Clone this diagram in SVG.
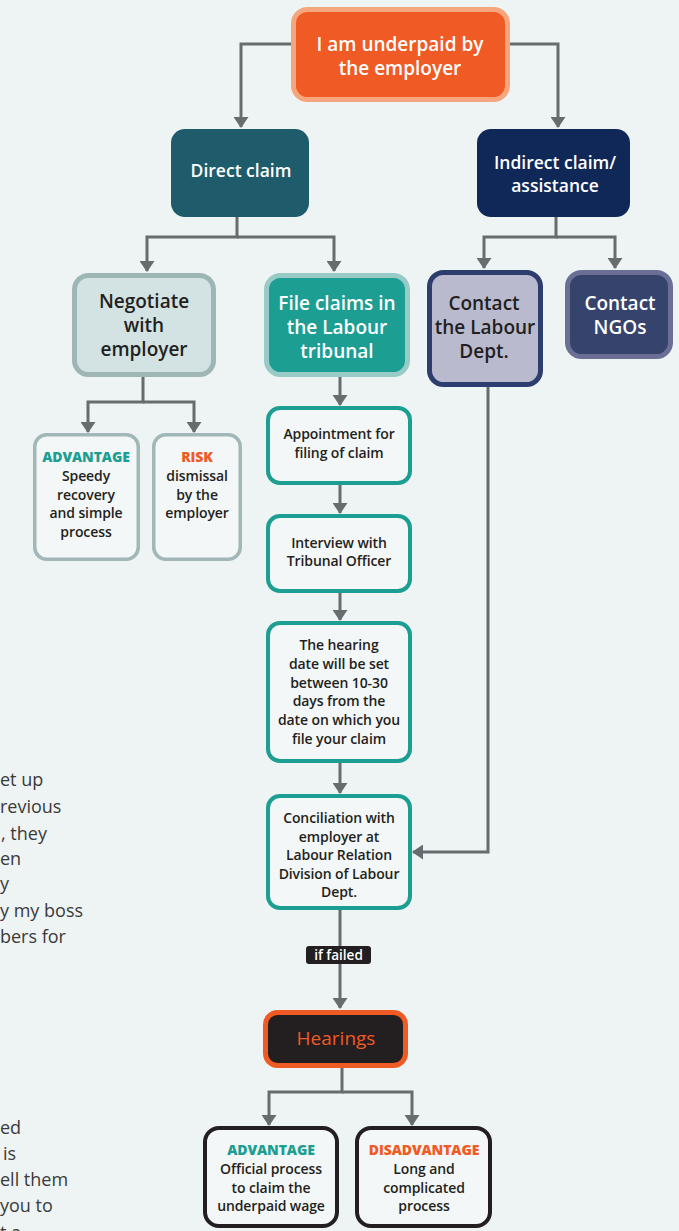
<svg xmlns="http://www.w3.org/2000/svg" width="679" height="1231" viewBox="0 0 679 1231">
<defs>
<marker id="ah" markerUnits="userSpaceOnUse" markerWidth="11" markerHeight="15" viewBox="0 0 11 15" refX="10" refY="7.5" orient="auto">
<path d="M0,0 L11,7.5 L0,15 Z" fill="#676c6f"/>
</marker>
<style>
.bg{fill:#eef4f4}
.c{fill:none;stroke:#676c6f;stroke-width:3;marker-end:url(#ah)}
.t{font-family:"Open Sans","Noto Sans",sans-serif;font-weight:600;text-anchor:middle}
.big{font-size:19px}
.mid{font-size:17.5px}
.sm{font-size:14px;letter-spacing:-0.1px}
.w{fill:#ffffff}
.d{fill:#231f20}
.tealT{fill:#1c9e92;font-weight:800}
.orT{fill:#f05a24;font-weight:800}
.frag{font-family:"Open Sans","Noto Sans",sans-serif;font-size:18px;fill:#3a3a3a}
</style>
</defs>
<rect class="bg" x="0" y="0" width="679" height="1231"/>

<g id="fragments">
<text class="frag" x="0" y="786">et up</text>
<text class="frag" x="0" y="813">revious</text>
<text class="frag" x="1" y="840">, they</text>
<text class="frag" x="0" y="865">en</text>
<text class="frag" x="0" y="890">y</text>
<text class="frag" x="0" y="917">y my boss</text>
<text class="frag" x="0" y="943">bers for</text>
<text class="frag" x="0" y="1134">ed</text>
<text class="frag" x="3" y="1160">is</text>
<text class="frag" x="0" y="1186">ell them</text>
<text class="frag" x="0" y="1212">you to</text>
<text class="frag" x="0" y="1239">t a</text>
</g>

<g id="connectors">
<path class="c" d="M293,44 H241 V127"/>
<path class="c" d="M508,44 H558 V127"/>
<path class="c" d="M237,217 V237 H147 V271"/>
<path class="c" d="M237,237 H334 V271"/>
<path class="c" d="M556,217 V237 H484 V268"/>
<path class="c" d="M556,237 H615 V268"/>
<path class="c" d="M143,377 V402 H88 V432"/>
<path class="c" d="M143,402 H194 V432"/>
<path class="c" d="M340,377 V405"/>
<path class="c" d="M340,485 V513"/>
<path class="c" d="M340,593 V620"/>
<path class="c" d="M340,763 V793"/>
<path class="c" d="M488,387 V852 H413"/>
<path class="c" d="M340,910 V1008"/>
<path class="c" d="M342,1068 V1092 H269 V1125"/>
<path class="c" d="M342,1092 H412 V1125"/>
<g id="label-iffailed">
<rect x="306" y="946" width="65" height="18" rx="3" fill="#231f20"/>
<text class="t w" x="338.5" y="960" style="font-size:13.5px">if failed</text>
</g>
</g>

<g id="n-top">
<rect x="293.5" y="9.5" width="214" height="90" rx="14" fill="#f05a24" stroke="#f5a67c" stroke-width="5"/>
<text class="t big w" x="400" y="51">I am underpaid by</text>
<text class="t big w" x="400" y="75">the employer</text>
</g>

<g id="n-direct">
<rect x="171" y="129" width="138" height="88" rx="14" fill="#1e5c6b"/>
<text class="t mid w" x="241" y="177">Direct claim</text>
</g>

<g id="n-indirect">
<rect x="477" y="129" width="153" height="88" rx="14" fill="#0f2858"/>
<text class="t mid w" x="555" y="169">Indirect claim/</text>
<text class="t mid w" x="555" y="192">assistance</text>
</g>

<g id="n-negotiate">
<rect x="74.5" y="275.5" width="139" height="99" rx="14" fill="#d3e2e2" stroke="#9fb6b6" stroke-width="5"/>
<text class="t big d" x="144" y="308">Negotiate</text>
<text class="t big d" x="144" y="332">with</text>
<text class="t big d" x="144" y="356">employer</text>
</g>

<g id="n-file">
<rect x="266.5" y="275.5" width="141" height="99" rx="14" fill="#1c9e92" stroke="#99cbc6" stroke-width="5"/>
<text class="t big w" x="337" y="310">File claims in</text>
<text class="t big w" x="337" y="334">the Labour</text>
<text class="t big w" x="337" y="358">tribunal</text>
</g>

<g id="n-contact-labour">
<rect x="429.5" y="272.5" width="111" height="112" rx="14" fill="#b9bace" stroke="#2d3e6e" stroke-width="5"/>
<text class="t big d" x="484" y="310">Contact</text>
<text class="t big d" x="485" y="334">the Labour</text>
<text class="t big d" x="484" y="358">Dept.</text>
</g>

<g id="n-ngos">
<rect x="567.5" y="272.5" width="103" height="84" rx="14" fill="#36436d" stroke="#6b6f95" stroke-width="5"/>
<text class="t big w" x="620" y="310">Contact</text>
<text class="t big w" x="620" y="334">NGOs</text>
</g>

<g id="n-adv1">
<rect x="34.75" y="434.75" width="103.5" height="124.5" rx="12" fill="#f3f7f7" stroke="#a2b7b7" stroke-width="3.5"/>
<text class="t sm tealT" x="86" y="462">ADVANTAGE</text>
<text class="t sm d" x="86" y="481">Speedy</text>
<text class="t sm d" x="86" y="500">recovery</text>
<text class="t sm d" x="86" y="518">and simple</text>
<text class="t sm d" x="86" y="537">process</text>
</g>

<g id="n-risk">
<rect x="153.75" y="434.75" width="86.5" height="124.5" rx="12" fill="#f3f7f7" stroke="#a2b7b7" stroke-width="3.5"/>
<text class="t sm orT" x="197" y="462">RISK</text>
<text class="t sm d" x="197" y="481">dismissal</text>
<text class="t sm d" x="197" y="500">by the</text>
<text class="t sm d" x="197" y="518">employer</text>
</g>

<g id="n-appointment">
<rect x="268" y="408" width="142" height="75" rx="12" fill="#f3f7f7" stroke="#1c9e92" stroke-width="4"/>
<text class="t sm d" x="339" y="439">Appointment for</text>
<text class="t sm d" x="339" y="458">filing of claim</text>
</g>

<g id="n-interview">
<rect x="268" y="516" width="142" height="75" rx="12" fill="#f3f7f7" stroke="#1c9e92" stroke-width="4"/>
<text class="t sm d" x="339" y="548">Interview with</text>
<text class="t sm d" x="339" y="566">Tribunal Officer</text>
</g>

<g id="n-hearingdate">
<rect x="268" y="623" width="142" height="138" rx="12" fill="#f3f7f7" stroke="#1c9e92" stroke-width="4"/>
<text class="t sm d" x="339" y="650">The hearing</text>
<text class="t sm d" x="339" y="669">date will be set</text>
<text class="t sm d" x="339" y="688">between 10-30</text>
<text class="t sm d" x="339" y="706">days from the</text>
<text class="t sm d" x="339" y="725">date on which you</text>
<text class="t sm d" x="339" y="744">file your claim</text>
</g>

<g id="n-conciliation">
<rect x="268" y="796" width="142" height="112" rx="12" fill="#f3f7f7" stroke="#1c9e92" stroke-width="4"/>
<text class="t sm d" x="339" y="823">Conciliation with</text>
<text class="t sm d" x="339" y="842">employer at</text>
<text class="t sm d" x="339" y="860">Labour Relation</text>
<text class="t sm d" x="339" y="879">Division of Labour</text>
<text class="t sm d" x="339" y="897">Dept.</text>
</g>

<g id="n-hearings">
<rect x="265.5" y="1012.5" width="140" height="53" rx="12" fill="#231f20" stroke="#f05a24" stroke-width="5"/>
<text class="t big" x="336" y="1045" fill="#f05a24" style="font-weight:500">Hearings</text>
</g>

<g id="n-adv2">
<rect x="205" y="1128" width="132" height="98" rx="14" fill="#f3f7f7" stroke="#231f20" stroke-width="4"/>
<text class="t sm tealT" x="271" y="1155">ADVANTAGE</text>
<text class="t sm d" x="271" y="1174">Official process</text>
<text class="t sm d" x="271" y="1193">to claim the</text>
<text class="t sm d" x="271" y="1211">underpaid wage</text>
</g>

<g id="n-disadv">
<rect x="357" y="1128" width="133" height="98" rx="14" fill="#f3f7f7" stroke="#231f20" stroke-width="4"/>
<text class="t sm orT" x="424" y="1155">DISADVANTAGE</text>
<text class="t sm d" x="424" y="1174">Long and</text>
<text class="t sm d" x="424" y="1193">complicated</text>
<text class="t sm d" x="424" y="1211">process</text>
</g>
</svg>
